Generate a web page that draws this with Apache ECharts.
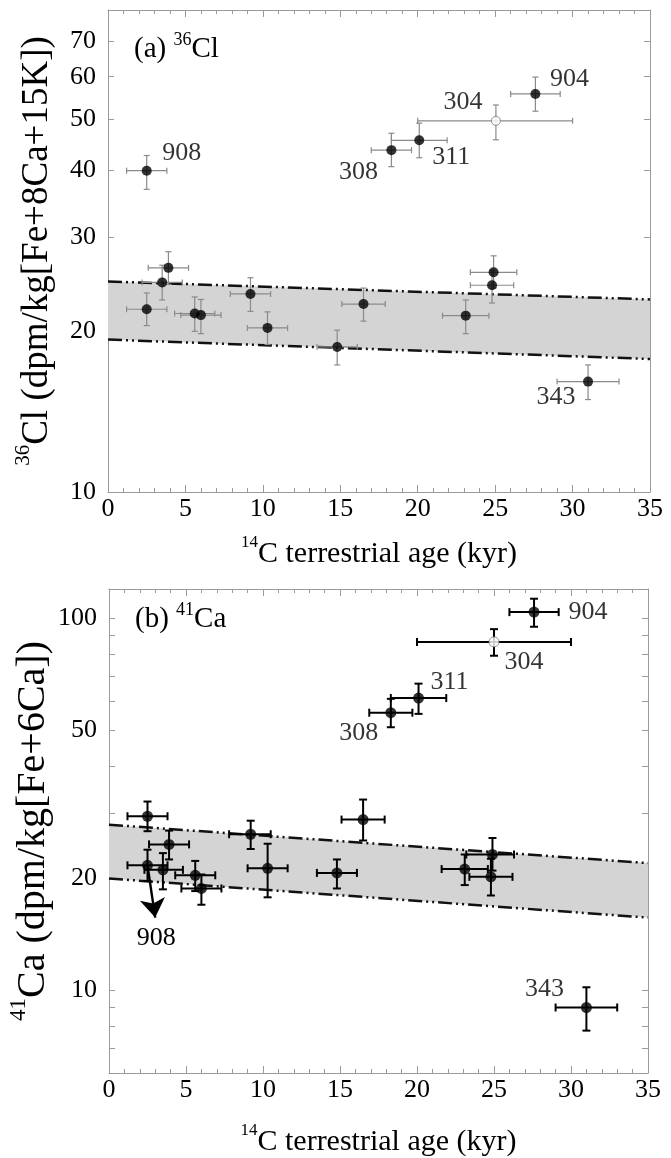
<!DOCTYPE html>
<html>
<head>
<meta charset="utf-8">
<script src="https://cdn.jsdelivr.net/npm/echarts@6/dist/echarts.min.js"></script>
<style>html,body{margin:0;padding:0;background:#fff}#c{width:671px;height:1158px}</style>
</head>
<body>
<div id="c"></div>
<script>
// ---------------- data ----------------
const ageMin = 0, ageMax = 35, ageStep = 5;
const clTickValues = [10, 20, 30, 40, 50, 60, 70];
const caTickValues = [7, 8, 9, 10, 20, 30, 40, 50, 60, 70, 80, 90, 100];
const caLabelValues = [10, 20, 50, 100];

// (a) 36Cl
const clId     = ['908', '', '', '', '', '', '', '', '', '', '', '', '', '308', '311', '904', '343', '304'];
const clAge    = [2.5, 2.5, 3.5, 3.9, 5.6, 6.0, 9.2, 10.3, 14.8, 16.5, 23.1, 24.9, 24.8, 18.3, 20.1, 27.6, 31.0, 25.05];
const clAgeLo  = [1.2, 1.2, 2.2, 2.6, 4.3, 4.7, 7.9, 9.0, 13.5, 15.1, 21.6, 23.4, 23.4, 17.0, 18.3, 26.0, 29.0, 20.0];
const clAgeHi  = [3.8, 3.8, 4.8, 5.2, 6.9, 7.3, 10.5, 11.6, 16.1, 17.9, 24.6, 26.4, 26.2, 19.6, 21.9, 29.2, 33.0, 30.0];
const clAct    = [40.0, 22.0, 24.7, 26.3, 21.6, 21.45, 23.5, 20.3, 18.7, 22.5, 21.4, 25.8, 24.4, 43.7, 45.6, 55.7, 16.1, 49.6];
const clActLo  = [36.9, 20.5, 22.9, 24.5, 20.0, 19.8, 21.8, 18.9, 17.3, 20.9, 19.8, 24.1, 22.6, 40.7, 42.3, 51.7, 14.9, 45.7];
const clActHi  = [42.7, 23.6, 26.6, 28.2, 23.2, 22.95, 25.2, 21.75, 20.1, 24.1, 22.9, 27.7, 26.0, 47.0, 49.1, 59.9, 17.3, 53.1];
const clHollow = [0, 0, 0, 0, 0, 0, 0, 0, 0, 0, 0, 0, 0, 0, 0, 0, 0, 1];

// (b) 41Ca
const caId     = ['', '', '', '', '', '', '', '', '', '', '', '', '', '308', '311', '904', '343', '304'];
const caAge    = [2.5, 16.5, 9.2, 3.9, 24.9, 24.8, 2.5, 3.5, 5.6, 6.0, 10.3, 14.8, 23.1, 18.3, 20.1, 27.6, 31.0, 25.0];
const caAgeLo  = [1.2, 15.1, 7.8, 2.6, 23.2, 23.4, 1.2, 2.3, 4.3, 4.7, 9.0, 13.5, 21.6, 16.9, 18.3, 26.0, 29.0, 20.0];
const caAgeHi  = [3.8, 17.9, 10.5, 5.2, 26.3, 26.2, 3.8, 4.8, 6.9, 7.3, 11.6, 16.1, 24.6, 19.7, 21.9, 29.2, 33.0, 30.0];
const caAct    = [29.4, 28.8, 26.3, 24.7, 23.2, 20.2, 21.7, 21.1, 20.4, 18.8, 21.3, 20.7, 21.2, 55.8, 61.1, 104, 9.0, 86.5];
const caActLo  = [26.8, 25.3, 24.0, 22.5, 21.0, 18.0, 19.7, 18.7, 18.5, 17.0, 17.8, 18.8, 19.2, 51.0, 55.4, 95, 7.8, 79.4];
const caActHi  = [32.2, 32.6, 28.6, 26.9, 25.7, 22.6, 23.9, 23.4, 22.3, 20.5, 24.8, 22.5, 23.2, 60.8, 66.8, 113, 10.2, 93.6];
const caHollow = [0, 0, 0, 0, 0, 0, 0, 0, 0, 0, 0, 0, 0, 0, 0, 0, 0, 1];
const caArrowFrom = [2.5, 21.7];
const caArrowTo   = [3.0, 15.7];
const caArrowLabel = '908';

// production-rate bands (at ages 0 and 35 kyr)
const bandAge   = [0, 35];
const clBandHi  = [24.8, 22.95];
const clBandLo  = [19.3, 17.75];
const caBandHi  = [27.9, 22.0];
const caBandLo  = [20.0, 15.7];

// ---------------- styles ----------------
const FONT = 'Liberation Serif';
const AX = '#9a9a9a';
const clLabelOffset = {'908': [35, -17], '308': [-33, 22], '311': [32, 17], '304': [-33, -19], '904': [34, -15], '343': [-32, 16]};
const caLabelOffset = {'904': [54, 0], '304': [30, 20], '311': [31, -16], '308': [-32, 20], '343': [-42, -18]};

function rich(main, sup) {
  return {
    m: {fontSize: main, lineHeight: Math.round(main * 1.15), verticalAlign: 'bottom', fontFamily: FONT, fontWeight: 'normal', color: '#000'},
    s: {fontSize: sup, lineHeight: sup, verticalAlign: 'top', fontFamily: FONT, fontWeight: 'normal', color: '#000'}
  };
}

function bandRender(hi, lo) {
  return function (params, api) {
    if (params.dataIndex !== 0) return;
    const up = bandAge.map((a, i) => api.coord([a, hi[i]]));
    const dn = bandAge.map((a, i) => api.coord([a, lo[i]]));
    const poly = up.concat(dn.slice().reverse());
    const ls = {stroke: '#111', lineWidth: 2.5, lineDash: [14, 4, 2, 4, 2, 4], fill: null};
    return {type: 'group', children: [
      {type: 'polygon', shape: {points: poly}, style: {fill: '#d4d4d4', stroke: null}},
      {type: 'polyline', shape: {points: up}, style: ls},
      {type: 'polyline', shape: {points: dn}, style: ls}
    ]};
  };
}

function errRender(color, lw, cap) {
  return function (params, api) {
    const x = api.value(0), y = api.value(3);
    const L = api.coord([api.value(1), y]), R = api.coord([api.value(2), y]);
    const B = api.coord([x, api.value(4)]), T = api.coord([x, api.value(5)]);
    const st = {stroke: color, lineWidth: lw};
    const ln = (x1, y1, x2, y2) => ({type: 'line', shape: {x1, y1, x2, y2}, style: st});
    return {type: 'group', children: [
      ln(L[0], L[1], R[0], R[1]),
      ln(B[0], B[1], T[0], T[1]),
      ln(L[0], L[1] - cap, L[0], L[1] + cap),
      ln(R[0], R[1] - cap, R[0], R[1] + cap),
      ln(B[0] - cap, B[1], B[0] + cap, B[1]),
      ln(T[0] - cap, T[1], T[0] + cap, T[1])
    ]};
  };
}

function errData(age, lo, hi, act, alo, ahi) {
  return age.map((a, i) => [a, lo[i], hi[i], act[i], alo[i], ahi[i]]);
}

function ptData(ids, age, act, hollow, want, offsets) {
  const out = [];
  age.forEach((a, i) => {
    if (!!hollow[i] !== want) return;
    const item = {value: [a, act[i]]};
    const id = ids[i];
    if (id && offsets[id]) item.label = {show: true, formatter: id, offset: offsets[id]};
    out.push(item);
  });
  return out;
}

function xAxes(gi, nameGap, name) {
  const common = {
    gridIndex: gi, type: 'value', min: ageMin, max: ageMax, interval: ageStep,
    axisLine: {show: true, onZero: false, lineStyle: {color: AX, width: 1}},
    axisTick: {show: true, inside: true, length: 7, lineStyle: {color: AX}},
    minorTick: {show: true, splitNumber: 5, length: 4, lineStyle: {color: AX}},
    splitLine: {show: false}, minorSplitLine: {show: false}
  };
  return [
    Object.assign({}, common, {
      position: 'bottom',
      axisLabel: {show: true, fontSize: 26, fontFamily: FONT, color: '#000', margin: 4},
      name: name, nameLocation: 'middle', nameGap: nameGap, nameMoveOverlap: false,
      nameTextStyle: {fontFamily: FONT, rich: rich(30, 17)}
    }),
    Object.assign({}, common, {position: 'top', axisLabel: {show: false}})
  ];
}

function yAxes(gi, min, max, ticks, labels, name, nameGap, nameSize) {
  const common = {
    gridIndex: gi, type: 'log', logBase: 10, min: min, max: max,
    axisLine: {show: true, onZero: false, lineStyle: {color: AX, width: 1}},
    axisTick: {show: true, inside: true, length: 6, customValues: ticks, lineStyle: {color: AX}},
    minorTick: {show: false}, splitLine: {show: false}, minorSplitLine: {show: false}
  };
  return [
    Object.assign({}, common, {
      position: 'left',
      axisLabel: {show: true, customValues: labels, fontSize: 26, fontFamily: FONT, color: '#000', margin: 12},
      name: name, nameLocation: 'middle', nameGap: nameGap, nameMoveOverlap: false,
      nameTextStyle: {fontFamily: FONT, rich: rich(nameSize, Math.round(nameSize * 0.57))}
    }),
    Object.assign({}, common, {position: 'right', axisLabel: {show: false}})
  ];
}

const labelStyle = {show: false, position: 'inside', fontSize: 26, fontFamily: FONT, color: '#000', align: 'center', verticalAlign: 'middle'};

const option = {
  animation: false,
  backgroundColor: '#fff',
  textStyle: {fontFamily: FONT},
  title: [
    {text: '{m|(a) }{s|36}{m|Cl}', left: 134, top: 31, padding: 0, textStyle: {fontFamily: FONT, fontWeight: 'normal', rich: rich(29, 18)}},
    {text: '{m|(b) }{s|41}{m|Ca}', left: 135, top: 601, padding: 0, textStyle: {fontFamily: FONT, fontWeight: 'normal', rich: rich(29, 18)}}
  ],
  grid: [
    {left: 108, right: 21, top: 10, height: 482, containLabel: false, outerBoundsMode: 'none'},
    {left: 109, right: 23, top: 589, height: 484, containLabel: false, outerBoundsMode: 'none'}
  ],
  xAxis: [].concat(
    xAxes(0, 42, '{s|14}{m|C terrestrial age (kyr)}'),
    xAxes(1, 49, '{s|14}{m|C terrestrial age (kyr)}')
  ),
  yAxis: [].concat(
    yAxes(0, 10, 80, clTickValues, clTickValues, '{s|36}{m|Cl (dpm/kg[Fe+8Ca+15K])}', 52, 37),
    yAxes(1, 6, 120, caTickValues, caLabelValues, '{s|41}{m|Ca (dpm/kg[Fe+6Ca])}', 56, 40)
  ),
  series: [
    // ---- panel a ----
    {type: 'custom', name: 'clBand', xAxisIndex: 0, yAxisIndex: 0, z: 1, silent: true,
     data: bandAge.map((a, i) => [a, clBandHi[i], clBandLo[i]]), encode: {x: 0, y: [1, 2]},
     renderItem: bandRender(clBandHi, clBandLo)},
    {type: 'custom', name: 'clErr', xAxisIndex: 0, yAxisIndex: 0, z: 2, silent: true,
     data: errData(clAge, clAgeLo, clAgeHi, clAct, clActLo, clActHi), encode: {x: [0, 1, 2], y: [3, 4, 5]},
     renderItem: errRender('#8a8a8a', 1.2, 3)},
    {type: 'scatter', name: 'clFilled', xAxisIndex: 0, yAxisIndex: 0, z: 3, symbol: 'circle', symbolSize: 10,
     itemStyle: {color: '#000'}, label: labelStyle,
     data: ptData(clId, clAge, clAct, clHollow, false, clLabelOffset)},
    {type: 'scatter', name: 'clOpen', xAxisIndex: 0, yAxisIndex: 0, z: 3, symbol: 'circle', symbolSize: 9,
     itemStyle: {color: '#fff', borderColor: '#777', borderWidth: 1}, label: labelStyle,
     data: ptData(clId, clAge, clAct, clHollow, true, clLabelOffset)},
    // ---- panel b ----
    {type: 'custom', name: 'caBand', xAxisIndex: 2, yAxisIndex: 2, z: 1, silent: true,
     data: bandAge.map((a, i) => [a, caBandHi[i], caBandLo[i]]), encode: {x: 0, y: [1, 2]},
     renderItem: bandRender(caBandHi, caBandLo)},
    {type: 'custom', name: 'caErr', xAxisIndex: 2, yAxisIndex: 2, z: 2, silent: true,
     data: errData(caAge, caAgeLo, caAgeHi, caAct, caActLo, caActHi), encode: {x: [0, 1, 2], y: [3, 4, 5]},
     renderItem: errRender('#000', 2, 4)},
    {type: 'scatter', name: 'caFilled', xAxisIndex: 2, yAxisIndex: 2, z: 3, symbol: 'circle', symbolSize: 11,
     itemStyle: {color: '#000'}, label: labelStyle,
     data: ptData(caId, caAge, caAct, caHollow, false, caLabelOffset),
     markLine: {
       silent: true, symbol: ['none', 'arrow'], symbolSize: 19, animation: false,
       lineStyle: {color: '#000', width: 2.4, type: 'solid'},
       label: {show: true, position: 'end', formatter: caArrowLabel, distance: 8, fontSize: 26, fontFamily: FONT, color: '#000'},
       emphasis: {disabled: true},
       data: [[{coord: caArrowFrom}, {coord: caArrowTo}]]
     }},
    {type: 'scatter', name: 'caOpen', xAxisIndex: 2, yAxisIndex: 2, z: 3, symbol: 'circle', symbolSize: 10,
     itemStyle: {color: '#fff', borderColor: '#777', borderWidth: 1}, label: labelStyle,
     data: ptData(caId, caAge, caAct, caHollow, true, caLabelOffset)}
  ]
};

const chart = echarts.init(document.getElementById('c'), null, {renderer: 'canvas'});
chart.setOption(option);
</script>
</body>
</html>
